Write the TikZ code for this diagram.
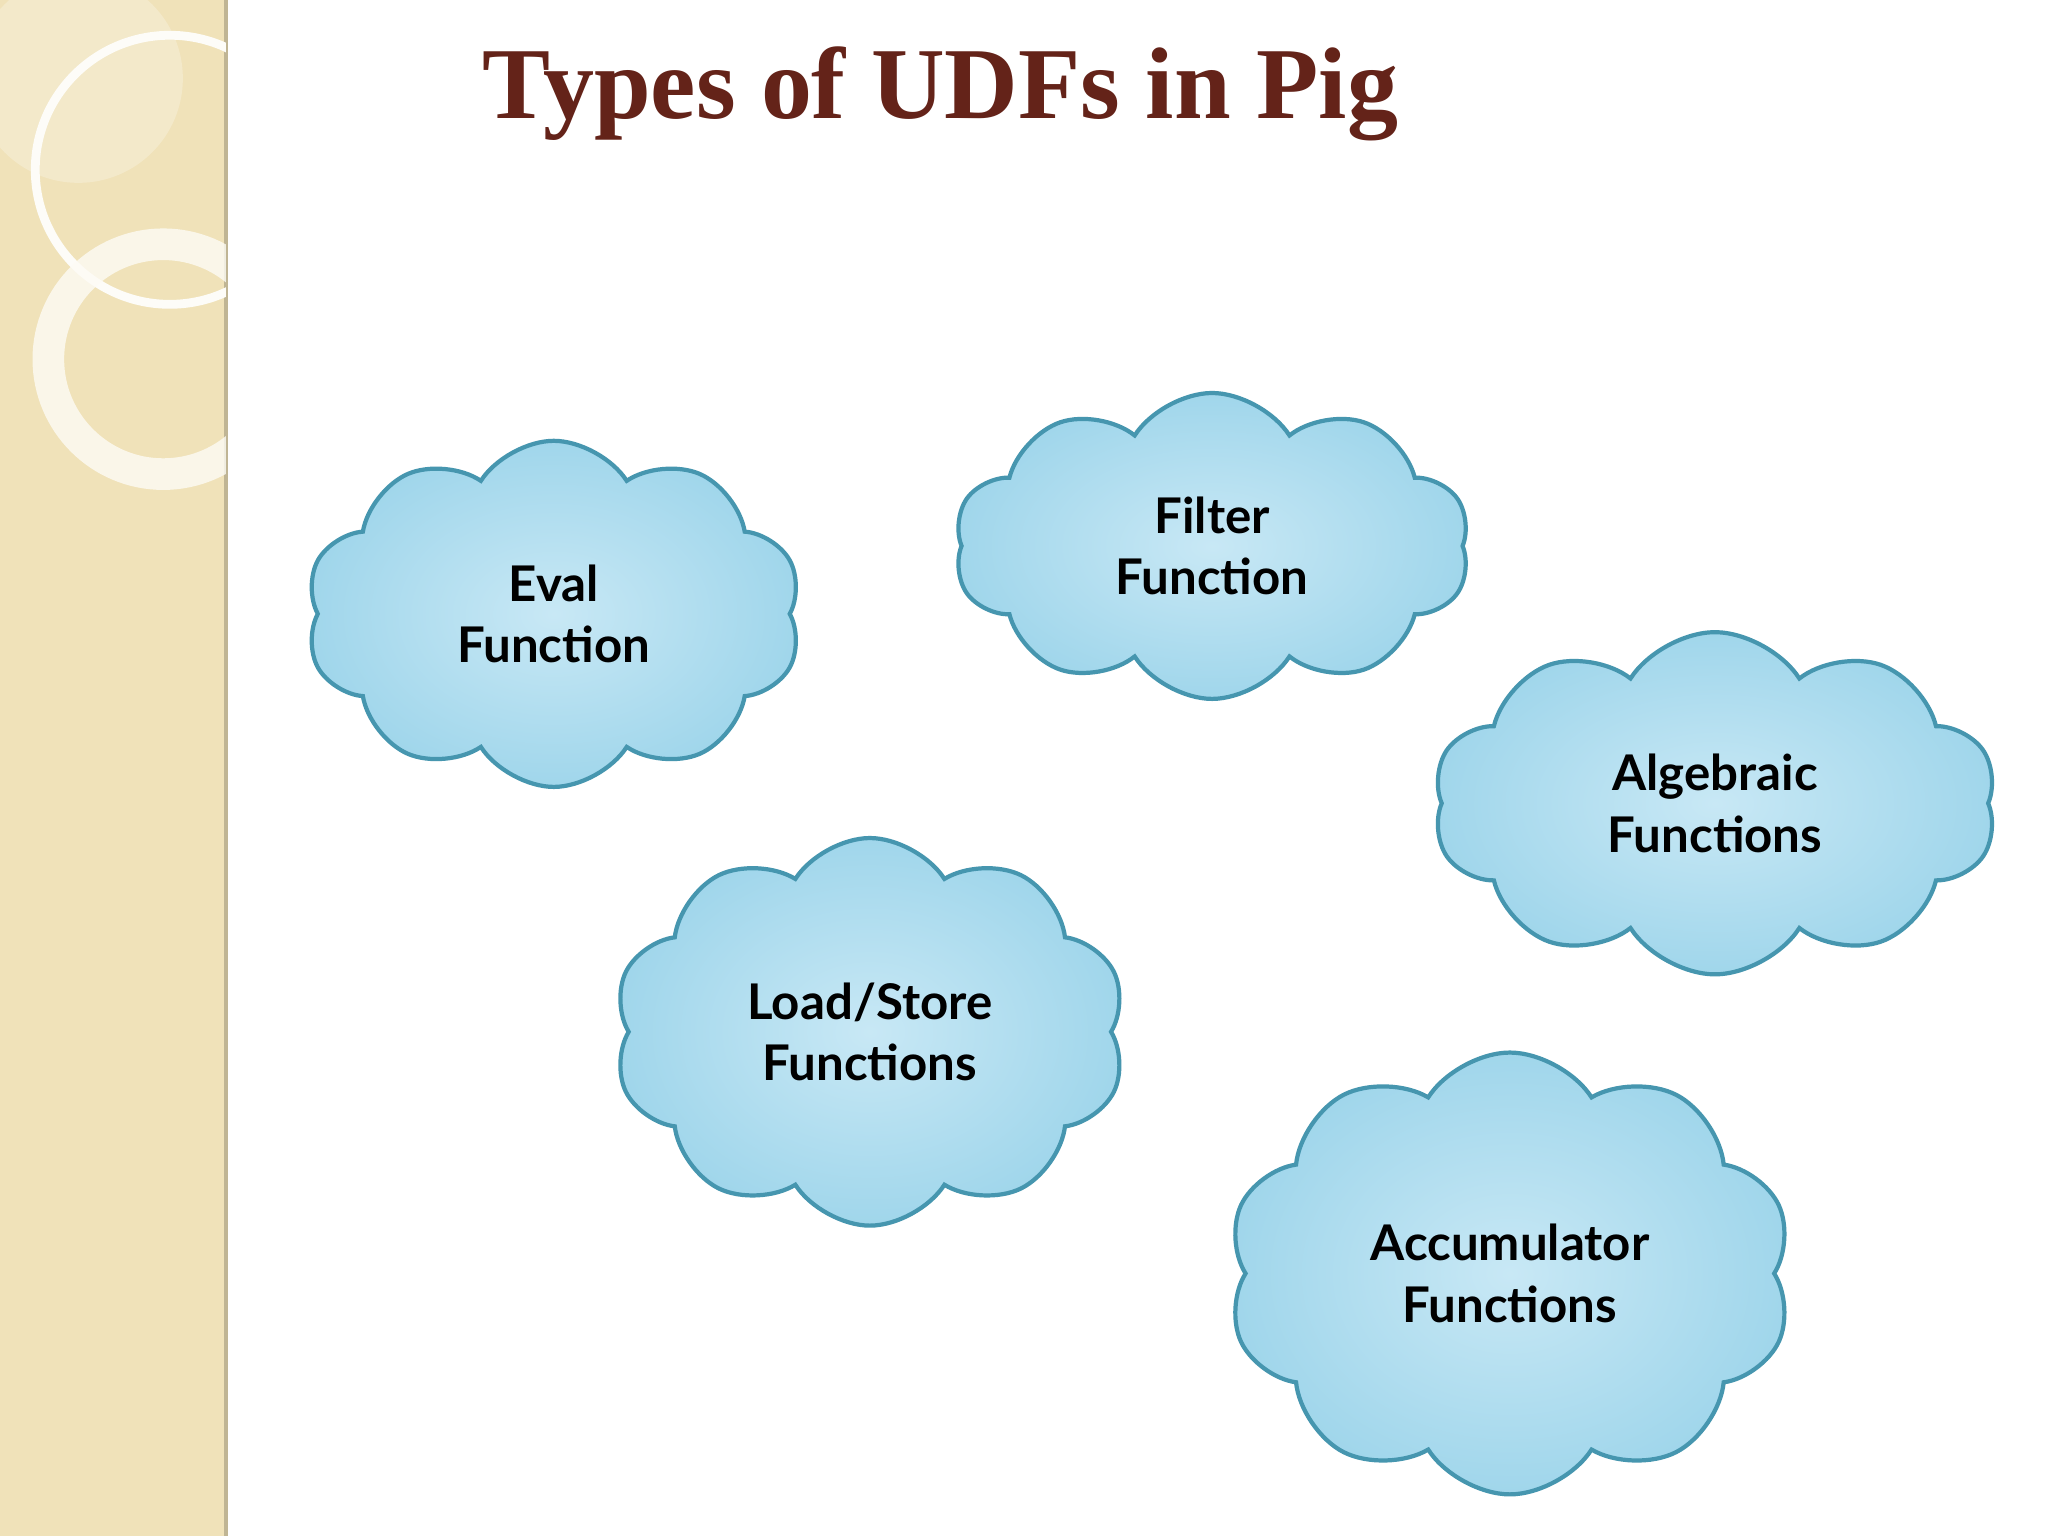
\documentclass[tikz,border=0pt]{standalone}
\usepackage{fontspec}
\setmainfont{Liberation Serif}
\newfontfamily\cloudfont{Lato}
\usetikzlibrary{shapes.symbols}
\definecolor{cloudedge}{RGB}{70,150,175}
\definecolor{cloudin}{RGB}{200,232,245}
\definecolor{cloudout}{RGB}{160,214,235}
\definecolor{titlecol}{RGB}{100,35,25}
\definecolor{panel}{RGB}{240,226,185}
\tikzset{
  udf/.style={cloud, cloud puffs=10, cloud puff arc=115, draw=cloudedge, line width=1.2pt,
    shading=radial, inner color=cloudin, outer color=cloudout, align=center,
    font=\cloudfont\bfseries\fontsize{14}{17.5}\selectfont, text=black, inner sep=0pt},
  sz/.style 2 args={minimum width=#1*0.3716pt, minimum height=#2*0.3716pt}
}
\begin{document}
\begin{tikzpicture}[x=0.013061cm,y=-0.013061cm]
\useasboundingbox (0,0) rectangle (1568,1176);
\fill[white] (0,0) rectangle (1568,1176);
\fill[panel] (0,0) rectangle (173,1176);
\draw[panel!80!black, line width=1pt] (173,0) -- (173,1176);
\begin{scope}
\clip (0,0) rectangle (173,1176);
\fill[white,opacity=0.25] (60,60) circle (80);
\draw[white!90!panel, line width=2.5pt] (130,130) circle (103);
\draw[white!85!panel, line width=9pt, opacity=0.8] (125,275) circle (88);
\end{scope}
\node[font=\bfseries\fontsize{29}{34}\selectfont, text=titlecol] (title) at (720,72) {Types of UDFs in Pig};
\node[udf, sz={380}{265}] (eval) at (424,470) {Eval\\Function};
\node[udf, sz={395}{210}] (filter) at (928,418) {Filter\\Function};
\node[udf, sz={432}{262}] (alg) at (1313,615) {Algebraic\\Functions};
\node[udf, sz={393}{250}] (load) at (666,790) {Load/Store\\Functions};
\node[udf, sz={433}{225}] (acc) at (1156,975) {Accumulator\\Functions};
\end{tikzpicture}
\end{document}
